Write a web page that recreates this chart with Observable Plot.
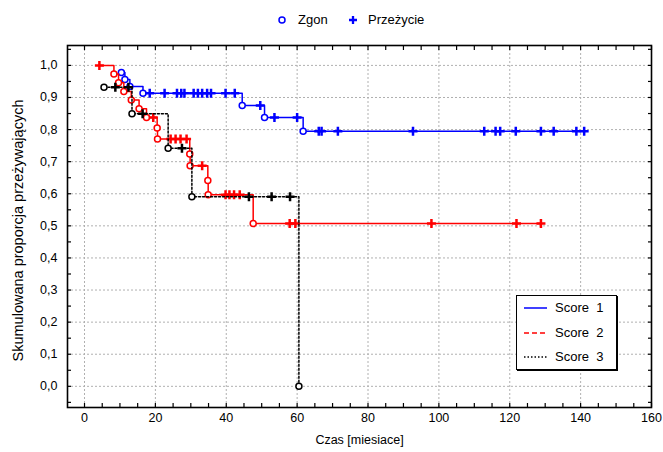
<!DOCTYPE html>
<html>
<head>
<meta charset="utf-8">
<script src="https://cdn.jsdelivr.net/npm/d3@7"></script>
<script src="https://cdn.jsdelivr.net/npm/@observablehq/plot@0.6"></script>
<style>
  body { margin: 0; background: #fff; font-family: "Liberation Sans", Arial, sans-serif; color: #000; }
  #wrap { position: relative; width: 663px; height: 452px; overflow: hidden; }
  #toplegend { position: relative; height: 34px; font-size: 13px; }
  #toplegend .item { position: absolute; top: 12px; line-height: 16px; white-space: pre; }
  #toplegend svg { position: absolute; }
  #box { position: absolute; left: 516px; top: 295px; width: 99px; height: 73px;
         border: 1px solid #000; box-shadow: 1px 1px 0 #000; background: #fff; font-size: 13px; }
  #box .row { position: absolute; left: 0; height: 16px; width: 100%; }
  #box .row svg { position: absolute; left: 6px; top: 4px; }
  #box .row span { position: absolute; left: 38px; top: 0; line-height: 16px; white-space: pre; }
</style>
</head>
<body>
<div id="wrap">
  <div id="toplegend"></div>
  <div id="chart"></div>
  <div id="box"></div>
</div>
<script>
// ---- data ----
// Score 1 (blue)
const score1Time  = [10.4, 11.4, 12.8, 16.5, 18.4, 22.6, 26.1, 27.3, 28.2, 30.8, 32.0, 33.2, 34.6, 35.7, 39.8, 42.4,
                     44.5, 49.6, 50.8, 53.6, 60.0,
                     61.7, 66.1, 66.9, 71.5, 92.7, 112.8, 116.0, 117.3, 121.7, 128.8, 132.4, 138.8, 141.0];
const score1Surv  = [0.978, 0.956, 0.934, 0.913, 0.913, 0.913, 0.913, 0.913, 0.913, 0.913, 0.913, 0.913, 0.913, 0.913, 0.913, 0.913,
                     0.875, 0.875, 0.838, 0.838, 0.838,
                     0.795, 0.795, 0.795, 0.795, 0.795, 0.795, 0.795, 0.795, 0.795, 0.795, 0.795, 0.795, 0.795];
const score1Event = [1, 1, 1, 1, 0, 0, 0, 0, 0, 0, 0, 0, 0, 0, 0, 0,
                     1, 0, 1, 0, 0,
                     1, 0, 0, 0, 0, 0, 0, 0, 0, 0, 0, 0, 0];
// Score 2 (red)
const score2Time  = [4.2, 8.3, 9.6, 11.1, 13.2, 15.4, 17.5, 19.4, 20.5, 20.6, 24.3, 25.7, 27.1, 28.8,
                     29.7, 29.8, 33.2, 34.8, 34.9, 39.8, 40.9, 42.2, 43.8, 47.6, 57.9, 59.5, 97.9, 121.9, 128.8];
const score2Surv  = [1.0, 0.973, 0.946, 0.919, 0.892, 0.865, 0.838, 0.838, 0.805, 0.771, 0.771, 0.771, 0.771, 0.771,
                     0.724, 0.687, 0.687, 0.641, 0.597, 0.597, 0.597, 0.597, 0.597, 0.507, 0.507, 0.507, 0.507, 0.507, 0.507];
const score2Event = [0, 1, 1, 1, 1, 1, 1, 0, 1, 1, 0, 0, 0, 0,
                     1, 1, 0, 1, 1, 0, 0, 0, 0, 1, 0, 0, 0, 0, 0];
// Score 3 (black)
const score3Time  = [5.5, 8.7, 12.4, 13.4, 16.4, 23.6, 27.5, 30.3, 46.4, 52.8, 58.0, 60.5];
const score3Surv  = [0.932, 0.932, 0.932, 0.849, 0.849, 0.742, 0.742, 0.591, 0.591, 0.591, 0.591, 0.0];
const score3Event = [1, 0, 0, 1, 0, 1, 0, 1, 0, 0, 0, 1];

const seriesNames  = ["Score  1", "Score  2", "Score  3"];
const markerNames  = ["Zgon", "Przeżycie"];
const xTickValues  = [0, 20, 40, 60, 80, 100, 120, 140, 160];
const yTickValues  = [0, 0.1, 0.2, 0.3, 0.4, 0.5, 0.6, 0.7, 0.8, 0.9, 1.0];
const xLabel = "Czas [miesiace]";
const yLabel = "Skumulowana proporcja przeżywających";

// ---- styles ----
const colors = ["#0000ff", "#ff0000", "#000000"];
const dashes = [null, null, "2,2"];
const legendDashes = [null, "5,3", "1.5,2"];

const build = (t, s, e) => t.map((v, i) => ({t: v, s: s[i], e: e[i]}));
const series = [
  build(score1Time, score1Surv, score1Event),
  build(score2Time, score2Surv, score2Event),
  build(score3Time, score3Surv, score3Event)
];

const plusSymbol = {
  draw(context, size) {
    const r = Math.sqrt(size / Math.PI);
    context.moveTo(-r, 0); context.lineTo(r, 0);
    context.moveTo(0, -r); context.lineTo(0, r);
  }
};

const xMinor = d3.range(0, 33).map(i => i * 5);
const yMinor = d3.range(-1, 22).map(i => +(i * 0.05).toFixed(2));
const fmt = d => d.toFixed(1).replace(".", ",");

const seriesMarks = series.flatMap((rows, i) => [
  Plot.line(rows, {x: "t", y: "s", curve: "step-after", stroke: colors[i], strokeWidth: 1.5,
                   strokeDasharray: dashes[i]}),
  Plot.dot(rows.filter(d => d.e === 1), {x: "t", y: "s", r: 3, fill: "#fff", stroke: colors[i], strokeWidth: 1.5}),
  Plot.dot(rows.filter(d => d.e === 0), {x: "t", y: "s", r: 4.5, symbol: plusSymbol, fill: "none",
                                         stroke: colors[i], strokeWidth: 2.5})
]);

const gridStyle = {stroke: "#b0b0b0", strokeOpacity: 1, strokeWidth: 1, strokeDasharray: "2,2"};

const chart = Plot.plot({
  width: 663,
  height: 418,
  marginTop: 11,
  marginBottom: 45,
  marginLeft: 67,
  marginRight: 12,
  style: {fontFamily: "'Liberation Sans', Arial, sans-serif", fontSize: "12px", color: "#000", background: "#fff"},
  x: {domain: [-4.8, 160]},
  y: {domain: [-0.066, 1.062]},
  marks: [
    Plot.gridX(xTickValues, gridStyle),
    Plot.gridY(yTickValues, gridStyle),
    Plot.axisX(xTickValues, {anchor: "bottom", tickSize: 0, tickPadding: 6, label: null, fontSize: 12.5}),
    Plot.axisX(xMinor, {anchor: "bottom", tickSize: -4, text: null, label: null, strokeWidth: 1.2}),
    Plot.axisX(xMinor, {anchor: "top", tickSize: -4, text: null, label: null, strokeWidth: 1.2}),
    Plot.axisY(yTickValues, {anchor: "left", tickSize: 0, tickPadding: 10, tickFormat: fmt, label: null, fontSize: 12.5}),
    Plot.axisY(yMinor, {anchor: "left", tickSize: -4, text: null, label: null, strokeWidth: 1.2}),
    Plot.axisY(yMinor, {anchor: "right", tickSize: -4, text: null, label: null, strokeWidth: 1.2}),
    Plot.text([xLabel], {frameAnchor: "bottom", dy: 36, text: d => d, fontSize: 12.5}),
    Plot.text([yLabel], {frameAnchor: "left", dx: -49, dy: 4, rotate: -90, textAnchor: "middle", lineAnchor: "middle",
                         text: d => d, fontSize: 14.5}),
    ...seriesMarks,
    Plot.frame({stroke: "#000", strokeWidth: 1.6})
  ]
});
document.getElementById("chart").appendChild(chart);

// ---- top legend (marker types) ----
const topLegend = document.getElementById("toplegend");
topLegend.innerHTML = `
  <svg width="12" height="12" style="left:276px;top:14px"><circle cx="6" cy="6" r="3" fill="#fff" stroke="${colors[0]}" stroke-width="1.5"/></svg>
  <span class="item" style="left:298px">${markerNames[0]}</span>
  <svg width="12" height="12" style="left:347px;top:14px"><path d="M2,6H10M6,2V10" stroke="${colors[0]}" stroke-width="2.3"/></svg>
  <span class="item" style="left:368px">${markerNames[1]}</span>`;

// ---- series legend box ----
const box = document.getElementById("box");
const rowTops = [4, 29, 53];
box.innerHTML = seriesNames.map((n, i) => `
  <div class="row" style="top:${rowTops[i]}px">
    <svg width="26" height="8"><line x1="1" y1="4" x2="24" y2="4" stroke="${colors[i]}" stroke-width="1.5"
      ${legendDashes[i] ? `stroke-dasharray="${legendDashes[i]}"` : ""}/></svg>
    <span>${n}</span>
  </div>`).join("");
</script>
</body>
</html>
